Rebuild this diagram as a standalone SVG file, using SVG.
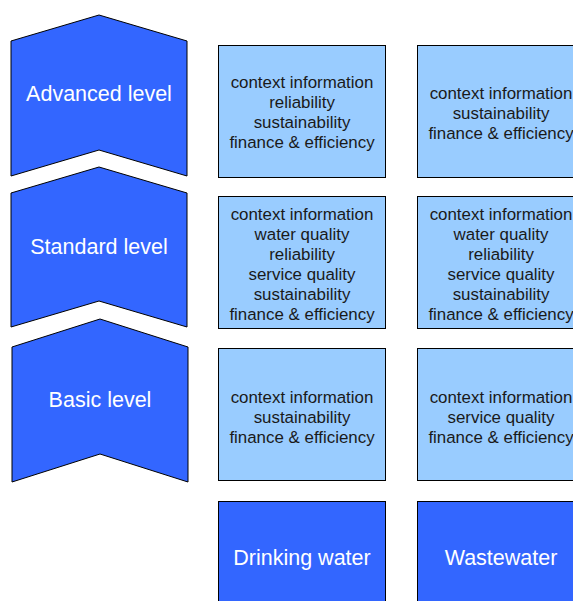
<svg xmlns="http://www.w3.org/2000/svg" width="573" height="601" viewBox="0 0 573 601">
<style>
.chev{fill:#3366FF;stroke:#000;stroke-width:1}
.dark{fill:#3366FF;stroke:#000;stroke-width:1}
.light{fill:#99CCFF;stroke:#000;stroke-width:1}
.big{font-family:"Liberation Sans",Arial,sans-serif;font-size:21.5px;fill:#FFFFFF;text-anchor:middle}
.small{font-family:"Liberation Sans",Arial,sans-serif;font-size:16.9px;fill:#1a1a1a;text-anchor:middle}
</style>
<rect width="573" height="601" fill="#FFFFFF"/>
<g id="advanced">
<polygon class="chev" points="11,41 99,15 187,41 187,176 99,150 11,176"/>
<text class="big" x="99" y="101">Advanced level</text>
</g>
<g id="standard">
<polygon class="chev" points="11,193 99,167 187,193 187,327 99,301 11,327"/>
<text class="big" x="99" y="254">Standard level</text>
</g>
<g id="basic">
<polygon class="chev" points="12,347 100,319 188,347 188,482 100,454 12,482"/>
<text class="big" x="100" y="407">Basic level</text>
</g>
<g id="dw-advanced">
<rect class="light" x="218.5" y="45.5" width="167" height="132"/>
<text class="small" x="302" y="88">context information</text>
<text class="small" x="302" y="108">reliability</text>
<text class="small" x="302" y="128">sustainability</text>
<text class="small" x="302" y="148">finance &amp; efficiency</text>
</g>
<g id="ww-advanced">
<rect class="light" x="417.5" y="45.5" width="167" height="132"/>
<text class="small" x="501" y="99">context information</text>
<text class="small" x="501" y="119">sustainability</text>
<text class="small" x="501" y="139">finance &amp; efficiency</text>
</g>
<g id="dw-standard">
<rect class="light" x="218.5" y="196.5" width="167" height="132"/>
<text class="small" x="302" y="220">context information</text>
<text class="small" x="302" y="240">water quality</text>
<text class="small" x="302" y="260">reliability</text>
<text class="small" x="302" y="280">service quality</text>
<text class="small" x="302" y="300">sustainability</text>
<text class="small" x="302" y="320">finance &amp; efficiency</text>
</g>
<g id="ww-standard">
<rect class="light" x="417.5" y="196.5" width="167" height="132"/>
<text class="small" x="501" y="220">context information</text>
<text class="small" x="501" y="240">water quality</text>
<text class="small" x="501" y="260">reliability</text>
<text class="small" x="501" y="280">service quality</text>
<text class="small" x="501" y="300">sustainability</text>
<text class="small" x="501" y="320">finance &amp; efficiency</text>
</g>
<g id="dw-basic">
<rect class="light" x="218.5" y="348.5" width="167" height="132"/>
<text class="small" x="302" y="403">context information</text>
<text class="small" x="302" y="423">sustainability</text>
<text class="small" x="302" y="443">finance &amp; efficiency</text>
</g>
<g id="ww-basic">
<rect class="light" x="417.5" y="348.5" width="167" height="132"/>
<text class="small" x="501" y="403">context information</text>
<text class="small" x="501" y="423">service quality</text>
<text class="small" x="501" y="443">finance &amp; efficiency</text>
</g>
<g id="drinking-water">
<rect class="dark" x="218.5" y="501.5" width="167" height="132"/>
<text class="big" x="302" y="565">Drinking water</text>
</g>
<g id="wastewater">
<rect class="dark" x="417.5" y="501.5" width="167" height="132"/>
<text class="big" x="501" y="565">Wastewater</text>
</g>
<g id="connectors"></g>
</svg>
